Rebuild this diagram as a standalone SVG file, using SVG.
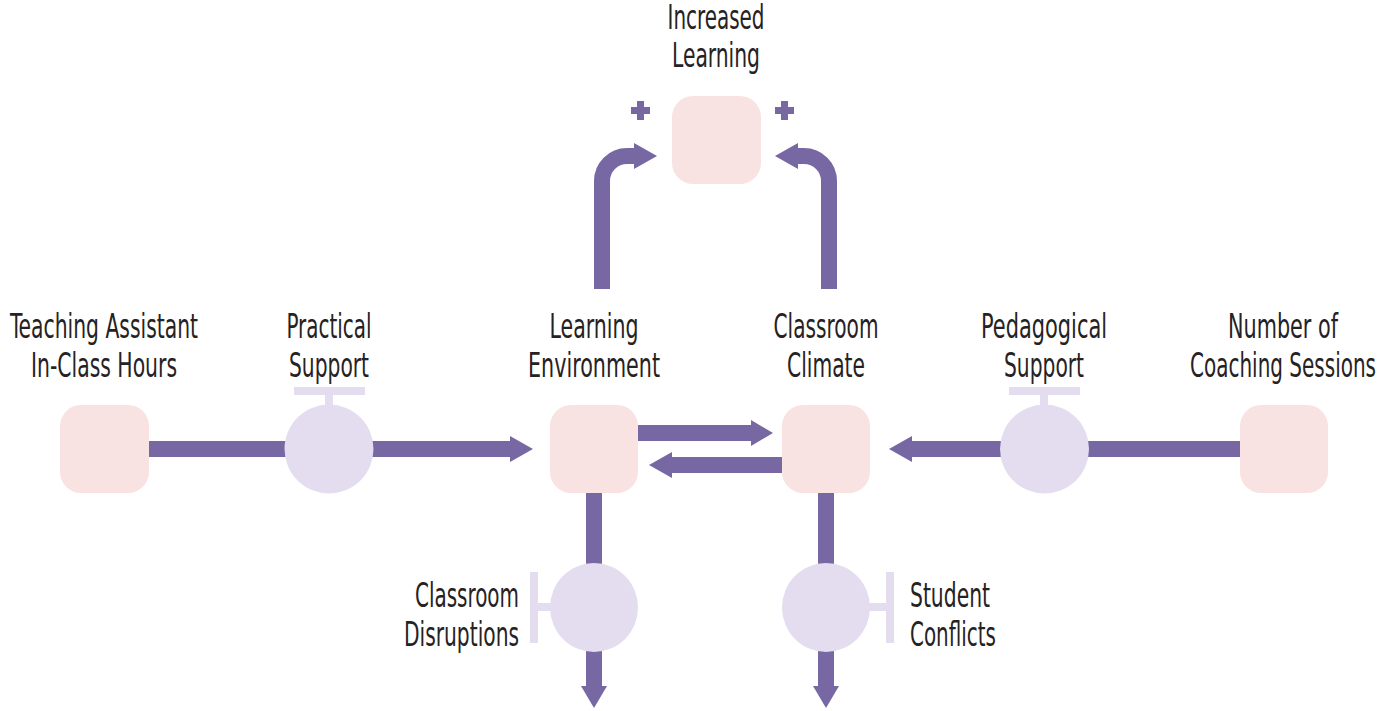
<svg xmlns="http://www.w3.org/2000/svg" width="1390" height="711" viewBox="0 0 1390 711">
  <style>
    .stock { fill: #f8e3e2; }
    .valve { fill: #e3ddef; }
    .flow { fill: none; stroke: #7767a2; stroke-width: 16; }
    .sign { fill: none; stroke: #7767a2; stroke-width: 7; }
    .head { fill: #7767a2; }
    .lbl { font-family: "Liberation Sans Narrow", "DejaVu Sans Condensed", "Liberation Sans", sans-serif; font-size: 33px; fill: #262223; }
    .mid { text-anchor: middle; }
    .end { text-anchor: end; }
  </style>
  <rect width="1390" height="711" fill="#ffffff"/>

  <!-- connectors -->
  <g id="connectors">
    <!-- TA hours -> practical support -> learning environment -->
    <line class="flow" x1="149" y1="449" x2="512" y2="449"/>
    <polygon class="head" points="510,436 533,449 510,462"/>
    <!-- coaching sessions -> pedagogical support -> classroom climate -->
    <line class="flow" x1="1240" y1="449" x2="910" y2="449"/>
    <polygon class="head" points="912,436 889,449 912,462"/>
    <!-- learning environment <-> classroom climate -->
    <line class="flow" x1="638" y1="433" x2="752" y2="433"/>
    <polygon class="head" points="751,420 773,433 751,446"/>
    <line class="flow" x1="782" y1="465" x2="670" y2="465"/>
    <polygon class="head" points="672,452 649,465 672,478"/>
    <!-- outflows -->
    <line class="flow" x1="594" y1="493" x2="594" y2="688"/>
    <polygon class="head" points="581,686 594,708 607,686"/>
    <line class="flow" x1="826" y1="493" x2="826" y2="688"/>
    <polygon class="head" points="813,686 826,708 839,686"/>
    <!-- links to increased learning -->
    <path class="flow" d="M602,289 V181 A25,25 0 0 1 627,156 H636"/>
    <polygon class="head" points="634,143 657,156 634,169"/>
    <path class="flow" d="M829,289 V181 A25,25 0 0 0 804,156 H796"/>
    <polygon class="head" points="798,143 775,156 798,169"/>
    <!-- polarity marks -->
    <path class="sign" d="M631,110.5 H650 M640.5,101 V120"/>
    <path class="sign" d="M775,110.5 H794 M784.5,101 V120"/>
  </g>

  <!-- stocks -->
  <g id="increased-learning">
    <rect class="stock" x="672" y="96" width="89" height="88" rx="21"/>
    <text class="lbl mid" x="716" y="29" textLength="97" lengthAdjust="spacingAndGlyphs">Increased</text>
    <text class="lbl mid" x="716" y="67" textLength="88" lengthAdjust="spacingAndGlyphs">Learning</text>
  </g>
  <g id="ta-hours">
    <rect class="stock" x="60" y="405" width="89" height="88" rx="21"/>
    <text class="lbl mid" x="104" y="338" textLength="188" lengthAdjust="spacingAndGlyphs">Teaching Assistant</text>
    <text class="lbl mid" x="104" y="377" textLength="146" lengthAdjust="spacingAndGlyphs">In-Class Hours</text>
  </g>
  <g id="learning-environment">
    <rect class="stock" x="550" y="405" width="88" height="88" rx="21"/>
    <text class="lbl mid" x="594" y="338" textLength="89" lengthAdjust="spacingAndGlyphs">Learning</text>
    <text class="lbl mid" x="594" y="377" textLength="132" lengthAdjust="spacingAndGlyphs">Environment</text>
  </g>
  <g id="classroom-climate">
    <rect class="stock" x="782" y="405" width="88" height="88" rx="21"/>
    <text class="lbl mid" x="826" y="338" textLength="105" lengthAdjust="spacingAndGlyphs">Classroom</text>
    <text class="lbl mid" x="826" y="377" textLength="78" lengthAdjust="spacingAndGlyphs">Climate</text>
  </g>
  <g id="coaching-sessions">
    <rect class="stock" x="1240" y="405" width="88" height="88" rx="21"/>
    <text class="lbl mid" x="1283" y="338" textLength="110" lengthAdjust="spacingAndGlyphs">Number of</text>
    <text class="lbl mid" x="1283" y="377" textLength="186" lengthAdjust="spacingAndGlyphs">Coaching Sessions</text>
  </g>

  <!-- valves -->
  <g id="practical-support">
    <rect class="valve" x="294" y="387" width="71" height="8"/>
    <rect class="valve" x="325" y="394" width="8" height="12"/>
    <circle class="valve" cx="329" cy="449" r="44.5"/>
    <text class="lbl mid" x="329" y="338" textLength="85" lengthAdjust="spacingAndGlyphs">Practical</text>
    <text class="lbl mid" x="329" y="377" textLength="80" lengthAdjust="spacingAndGlyphs">Support</text>
  </g>
  <g id="pedagogical-support">
    <rect class="valve" x="1009" y="387" width="71" height="8"/>
    <rect class="valve" x="1040" y="394" width="8" height="12"/>
    <circle class="valve" cx="1044.5" cy="449" r="44.5"/>
    <text class="lbl mid" x="1044" y="338" textLength="126" lengthAdjust="spacingAndGlyphs">Pedagogical</text>
    <text class="lbl mid" x="1044" y="377" textLength="80" lengthAdjust="spacingAndGlyphs">Support</text>
  </g>
  <g id="classroom-disruptions">
    <rect class="valve" x="530" y="572" width="8" height="71"/>
    <rect class="valve" x="537" y="603" width="15" height="8"/>
    <ellipse class="valve" cx="594" cy="607.5" rx="44" ry="44.5"/>
    <text class="lbl end" x="519" y="607" textLength="104" lengthAdjust="spacingAndGlyphs">Classroom</text>
    <text class="lbl end" x="519" y="646" textLength="115" lengthAdjust="spacingAndGlyphs">Disruptions</text>
  </g>
  <g id="student-conflicts">
    <rect class="valve" x="886" y="572" width="8" height="71"/>
    <rect class="valve" x="868" y="603" width="19" height="8"/>
    <ellipse class="valve" cx="826" cy="607.5" rx="44" ry="44.5"/>
    <text class="lbl" x="910" y="607" textLength="80" lengthAdjust="spacingAndGlyphs">Student</text>
    <text class="lbl" x="910" y="646" textLength="86" lengthAdjust="spacingAndGlyphs">Conflicts</text>
  </g>
</svg>
